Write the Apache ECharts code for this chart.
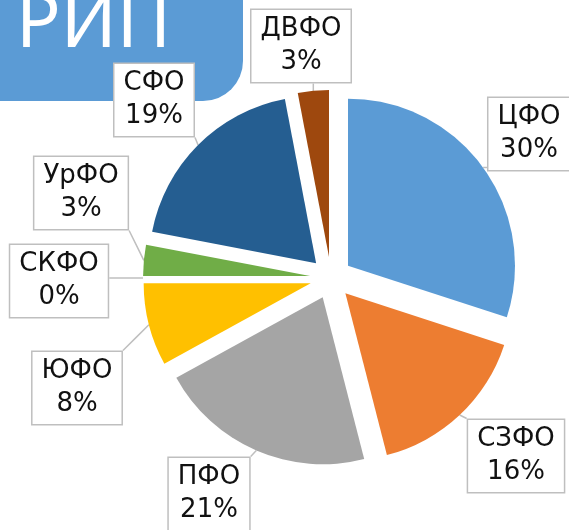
<!DOCTYPE html>
<html>
<head>
<meta charset="utf-8">
<script src="https://cdn.jsdelivr.net/npm/echarts@6/dist/echarts.min.js"></script>
<style>
  html, body { margin: 0; padding: 0; background: #fff; }
  #main { width: 569px; height: 530px; }
</style>
</head>
<body>
<div id="main"></div>
<script>
// данные по федеральным округам
var districts = ['ЦФО', 'СЗФО', 'ПФО', 'ЮФО', 'СКФО', 'УрФО', 'СФО', 'ДВФО'];
var shares = [30, 16, 21, 8, 0, 3, 19, 3];
var colors = ['#5B9BD5', '#ED7D31', '#A5A5A5', '#FFC000', '#4472C4', '#70AD47', '#255E91', '#9E480E'];

// центры подписей (только раскладка)
var labelPos = [[529, 134], [516, 456], [209, 494], [77, 388], [59, 281], [81, 193], [154, 100], [301, 46]];

var CX = 331, CY = 278, R = 167, OFFSET = 21;

// направление середины сектора (по часовой от 12 часов)
function midDir(idx) {
    var total = 0, acc = 0;
    for (var j = 0; j < shares.length; j++) {
        total += shares[j];
        if (j < idx) acc += shares[j];
    }
    var a = (acc + shares[idx] / 2) / total * Math.PI * 2;
    return [Math.sin(a), -Math.cos(a)];
}

var myChart = echarts.init(document.getElementById('main'));

var pieData = [];
for (var i = 0; i < districts.length; i++) {
    pieData.push({
        name: districts[i],
        value: shares[i],
        selected: true,
        itemStyle: { color: colors[i] }
    });
}

var txt = {
    fontFamily: 'DejaVu Sans',
    fontSize: 26,
    lineHeight: 33,
    color: '#111',
    align: 'center'
};

var option = {
    animation: false,
    graphic: [
        {
            type: 'rect',
            z: -10,
            shape: { x: -50, y: -50, width: 293, height: 151, r: 40 },
            style: { fill: '#5B9BD5' }
        },
        {
            type: 'text',
            z: -9,
            style: {
                text: 'РИП',
                x: 16,
                y: 26,
                verticalAlign: 'middle',
                fill: '#fff',
                font: '74px "Noto Sans"'
            }
        }
    ],
    series: [
        {
            type: 'pie',
            center: [CX, CY],
            radius: R,
            startAngle: 90,
            clockwise: true,
            selectedMode: 'multiple',
            selectedOffset: OFFSET,
            percentPrecision: 0,
            avoidLabelOverlap: false,
            emphasis: { disabled: true },
            select: { itemStyle: { borderWidth: 0 } },
            data: pieData,
            label: {
                show: true,
                position: 'outside',
                formatter: '{t|{b}}\n{t|{d}%}',
                fontFamily: 'DejaVu Sans',
                fontSize: 26,
                lineHeight: 33,
                color: '#111',
                backgroundColor: '#fff',
                borderColor: '#BFBFBF',
                borderWidth: 1.5,
                padding: [3, 9, 3, 9],
                rich: { t: txt }
            },
            labelLine: {
                show: true,
                length: 10,
                length2: 10,
                lineStyle: { color: '#BFBFBF', width: 1.5 }
            },
            labelLayout: function (p) {
                var idx = p.dataIndex;
                var pos = labelPos[idx];
                var r = p.labelRect;
                var d = midDir(idx);
                var off = [d[0] * OFFSET, d[1] * OFFSET];
                // точка на дуге сектора
                var e = [CX + d[0] * (R + OFFSET), CY + d[1] * (R + OFFSET)];
                var bx = pos[0] - r.width / 2, by = pos[1] - r.height / 2;
                var b = [
                    Math.min(Math.max(e[0], bx), bx + r.width),
                    Math.min(Math.max(e[1], by), by + r.height)
                ];
                var m = [(e[0] + b[0]) / 2, (e[1] + b[1]) / 2];
                // состояние select сдвигает линию на offset — компенсируем
                var pts = [e, m, b].map(function (q) {
                    return [q[0] - off[0], q[1] - off[1]];
                });
                return {
                    dx: pos[0] - (r.x + r.width / 2) - off[0],
                    dy: pos[1] - (r.y + r.height / 2) - off[1],
                    labelLinePoints: pts
                };
            }
        }
    ]
};

myChart.setOption(option);
window.addEventListener('resize', function () {
    myChart.resize();
});
</script>
</body>
</html>
